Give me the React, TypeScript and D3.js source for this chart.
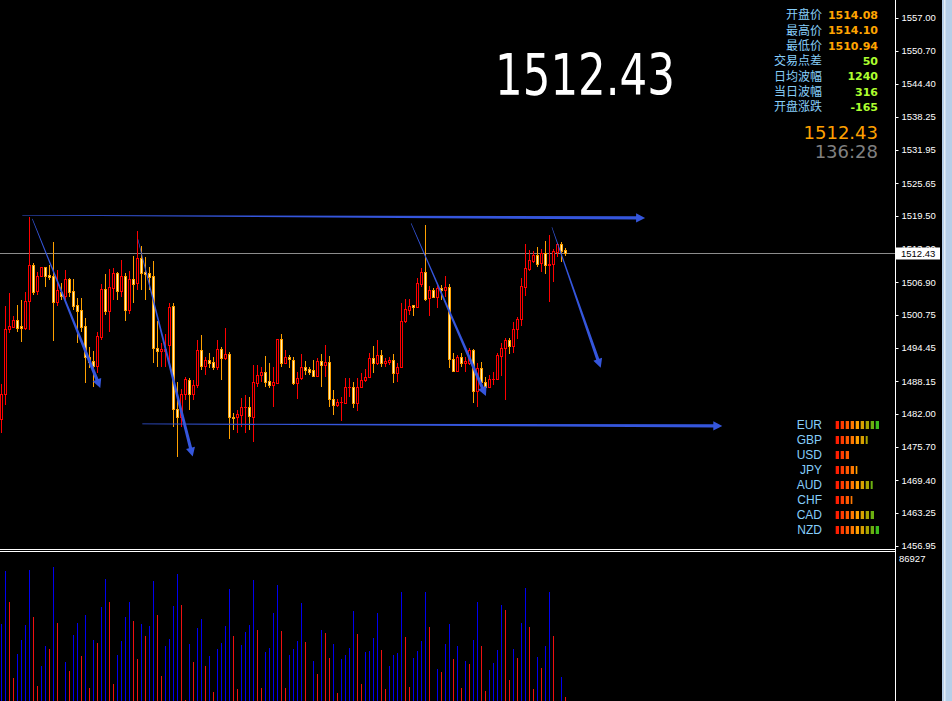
import React from 'react';
import * as d3 from 'd3';

// OHLC, one entry per bar (oldest first)
const opens = [
  1480.95, 1485.68, 1497.98, 1498.49, 1499.75, 1498.61, 1498.30, 1503.28, 1510.09, 1505.30,
  1508.08, 1509.72, 1508.26, 1508.08, 1503.22, 1505.11, 1504.35, 1507.51, 1505.24, 1502.59,
  1501.64, 1498.61, 1492.81, 1491.92, 1491.10, 1496.59, 1505.61, 1501.51, 1505.74, 1508.58,
  1505.30, 1508.08, 1501.64, 1507.51, 1506.81, 1511.42, 1508.90, 1508.58, 1508.08, 1494.51,
  1493.94, 1493.90, 1495.08, 1502.40, 1482.84, 1481.33, 1485.74, 1488.39, 1485.74, 1487.44,
  1494.07, 1491.10, 1492.18, 1491.73, 1490.91, 1494.20, 1492.49, 1493.31, 1481.45, 1481.33,
  1481.70, 1483.22, 1483.22, 1481.45, 1487.89, 1489.27, 1489.91, 1488.14, 1487.38, 1487.89,
  1496.09, 1491.67, 1492.68, 1492.18, 1487.89, 1488.77, 1490.79, 1490.41, 1490.28, 1489.21,
  1491.92, 1491.29, 1491.80, 1484.86, 1483.72, 1484.23, 1484.10, 1487.00, 1487.00, 1484.10,
  1487.13, 1488.39, 1488.90, 1492.49, 1491.67, 1493.06, 1491.55, 1491.86, 1492.11, 1489.65,
  1490.79, 1499.50, 1501.64, 1502.52, 1502.27, 1506.56, 1508.83, 1503.85, 1505.43, 1504.16,
  1505.80, 1505.43, 1505.93, 1492.30, 1490.16, 1492.68, 1491.55, 1491.67, 1494.07, 1486.37,
  1490.66, 1488.08, 1487.00, 1488.58, 1488.58, 1492.93, 1494.38, 1495.96, 1494.89, 1497.98,
  1499.87, 1506.06, 1509.40, 1510.98, 1512.05, 1510.47, 1512.37, 1510.22, 1510.28, 1512.68,
  1514.13, 1513.00,
];
const highs = [
  1487.63, 1502.40, 1504.79, 1500.50, 1502.52, 1503.53, 1505.05, 1519.18, 1510.47, 1508.83,
  1509.84, 1509.84, 1510.16, 1514.51, 1509.21, 1506.69, 1509.21, 1507.70, 1507.44, 1503.85,
  1503.85, 1500.06, 1494.70, 1493.94, 1497.54, 1506.56, 1508.45, 1509.34, 1509.53, 1508.90,
  1511.10, 1508.58, 1509.08, 1511.86, 1516.59, 1513.75, 1511.73, 1509.84, 1510.91, 1499.62,
  1495.33, 1497.04, 1502.90, 1502.90, 1488.01, 1486.75, 1489.02, 1488.71, 1488.39, 1495.96,
  1496.91, 1492.81, 1493.44, 1492.81, 1495.96, 1494.70, 1498.17, 1493.75, 1482.08, 1482.71,
  1484.92, 1485.55, 1485.24, 1491.23, 1491.23, 1490.91, 1492.93, 1491.55, 1490.91, 1496.09,
  1497.10, 1494.07, 1493.12, 1492.81, 1489.97, 1493.31, 1492.05, 1490.91, 1492.18, 1492.49,
  1493.31, 1495.02, 1492.93, 1486.50, 1484.73, 1485.24, 1488.77, 1488.71, 1488.08, 1488.71,
  1489.65, 1490.41, 1493.44, 1494.83, 1495.96, 1494.07, 1492.49, 1492.81, 1493.31, 1491.55,
  1503.03, 1503.79, 1503.66, 1502.52, 1507.63, 1509.53, 1517.73, 1506.18, 1505.74, 1506.81,
  1506.37, 1508.08, 1506.56, 1493.44, 1493.12, 1493.57, 1492.81, 1494.38, 1494.20, 1491.55,
  1491.86, 1489.02, 1489.34, 1489.97, 1493.57, 1495.33, 1496.28, 1496.28, 1499.43, 1500.38,
  1507.63, 1514.13, 1512.99, 1512.87, 1513.56, 1513.12, 1514.70, 1515.84, 1513.12, 1514.26,
  1514.57, 1513.44,
];
const lows = [
  1478.30, 1483.72, 1497.35, 1498.17, 1497.54, 1495.65, 1497.85, 1497.85, 1504.48, 1504.48,
  1507.82, 1506.06, 1507.32, 1495.84, 1502.40, 1503.53, 1502.90, 1504.16, 1501.64, 1495.33,
  1497.54, 1487.89, 1490.60, 1487.00, 1489.65, 1495.96, 1500.69, 1497.54, 1503.53, 1503.53,
  1504.16, 1499.62, 1500.88, 1502.90, 1505.43, 1505.43, 1503.53, 1505.43, 1491.67, 1490.91,
  1490.91, 1490.91, 1490.91, 1479.56, 1473.88, 1479.56, 1484.60, 1482.71, 1484.60, 1486.81,
  1490.28, 1489.34, 1490.60, 1490.28, 1490.28, 1488.39, 1492.18, 1477.16, 1478.93, 1478.30,
  1479.56, 1478.30, 1478.93, 1476.72, 1487.13, 1488.08, 1487.13, 1486.81, 1483.22, 1487.76,
  1490.91, 1491.55, 1490.60, 1487.38, 1484.73, 1488.39, 1489.34, 1489.34, 1489.02, 1489.02,
  1487.13, 1489.02, 1483.34, 1481.77, 1483.22, 1480.69, 1483.98, 1485.24, 1483.03, 1482.59,
  1486.81, 1488.08, 1488.71, 1489.78, 1491.23, 1490.91, 1490.91, 1491.23, 1487.89, 1488.08,
  1490.60, 1499.12, 1500.69, 1500.50, 1501.96, 1505.93, 1503.41, 1500.57, 1503.85, 1501.96,
  1503.53, 1504.16, 1490.60, 1489.97, 1489.97, 1490.91, 1489.97, 1491.23, 1484.10, 1483.34,
  1487.44, 1486.18, 1486.81, 1487.44, 1488.39, 1489.15, 1484.60, 1493.31, 1493.44, 1496.09,
  1498.61, 1504.29, 1509.02, 1510.47, 1509.84, 1508.90, 1508.45, 1503.22, 1507.00, 1511.73,
  1510.79, 1511.93,
];
const closes = [
  1485.68, 1497.98, 1498.61, 1499.75, 1498.30, 1498.30, 1503.28, 1510.09, 1505.11, 1508.08,
  1509.72, 1508.08, 1507.95, 1503.22, 1505.43, 1504.35, 1507.51, 1505.11, 1502.40, 1501.51,
  1498.49, 1492.68, 1491.86, 1491.10, 1496.72, 1505.61, 1501.51, 1505.93, 1508.58, 1505.30,
  1508.08, 1501.64, 1507.51, 1506.56, 1511.42, 1508.71, 1508.45, 1507.95, 1494.38, 1493.94,
  1494.20, 1494.30, 1502.14, 1482.84, 1481.33, 1485.74, 1488.58, 1485.74, 1487.44, 1494.07,
  1491.10, 1492.18, 1491.67, 1490.91, 1494.20, 1492.49, 1493.25, 1481.33, 1481.14, 1481.89,
  1483.22, 1483.34, 1481.58, 1488.01, 1489.40, 1489.91, 1488.08, 1487.38, 1488.01, 1496.09,
  1491.67, 1492.68, 1492.30, 1487.89, 1488.77, 1490.79, 1490.28, 1489.97, 1489.21, 1491.92,
  1491.29, 1491.80, 1484.86, 1483.72, 1484.23, 1484.29, 1487.00, 1487.05, 1484.10, 1487.13,
  1488.39, 1488.90, 1492.49, 1491.67, 1493.06, 1491.55, 1491.92, 1492.11, 1489.65, 1490.79,
  1499.50, 1501.77, 1502.46, 1502.27, 1506.69, 1508.83, 1503.72, 1505.43, 1504.16, 1505.80,
  1505.43, 1505.93, 1492.30, 1490.16, 1492.68, 1491.55, 1491.92, 1494.07, 1486.37, 1490.66,
  1488.08, 1487.13, 1488.58, 1488.64, 1493.12, 1494.38, 1495.96, 1494.89, 1497.98, 1499.94,
  1506.18, 1509.53, 1511.10, 1512.05, 1510.41, 1512.37, 1510.22, 1510.35, 1512.81, 1514.13,
  1512.87, 1512.43,
];
const volumes = [
  47255, 78176, 60090, 15752, 29753, 37921, 46672, 78759, 51339, 11085,
  22753, 34421, 32670, 80509, 47839, 1750, 25086, 19836, 40838, 47839,
  28587, 52506, 9918, 37921, 36171, 57173, 73508, 60090, 12251, 29170,
  37338, 51339, 60090, 49006, 26836, 47255, 40255, 46089, 72342, 52506,
  16919, 34421, 38504, 57757, 76425, 58340, 2917, 35587, 25086, 44922,
  50172, 22753, 28587, 7584, 32670, 36171, 46089, 67674, 40255, 9334,
  35004, 42588, 46672, 72925, 43755, 9918, 30920, 33254, 53673, 70008,
  43172, 9918, 29170, 32670, 37338, 59507, 36754, 1167, 25670, 18085,
  43755, 42005, 27420, 35587, 7001, 26836, 29170, 33254, 54840, 41421,
  12251, 30920, 31504, 39088, 53673, 32087, 9334, 22753, 29170, 30337,
  65924, 39671, 10501, 27420, 31504, 37338, 65924, 45505, 1167, 21002,
  19252, 35587, 47255, 26836, 34421, 9918, 25670, 23919, 37921, 60090,
  34421, 8168, 20419, 24503, 32087, 58340, 55423, 14585, 32670, 27420,
  47839, 68258, 45505, 9334, 28003, 21586, 34421, 65924, 40255, 1167,
  16335, 4667,
];

const priceTicks = [
  1557.00, 1550.70, 1544.40, 1538.25, 1531.95, 1525.65, 1519.50, 1513.20, 1506.90,
  1500.75, 1494.45, 1488.15, 1482.00, 1475.70, 1469.40, 1463.25, 1456.95,
];
const volumeMax = 86927;
const lastPrice = 1512.43;
const barTimer = '136:28';

// drawn arrows: [fromBar, fromPrice, toBar, toPrice]
const trendArrows = [
  [5.2, 1519.56, 160.9, 1519.05],
  [35.2, 1480.06, 180.2, 1479.68],
  [7.7, 1518.86, 24.7, 1486.87],
  [34.1, 1515.02, 47.8, 1473.87],
  [102.4, 1518.04, 121.1, 1485.35],
  [137.6, 1517.29, 149.8, 1490.71],
];

const infoLabels = ['开盘价', '最高价', '最低价', '交易点差', '日均波幅', '当日波幅', '开盘涨跌'];
const infoValues = ['1514.08', '1514.10', '1510.94', '50', '1240', '316', '-165'];

const currencies = ['EUR', 'GBP', 'USD', 'JPY', 'AUD', 'CHF', 'CAD', 'NZD'];
const strength = [9, 6.6, 3, 4.5, 7.6, 3.5, 8, 9];
const meterColors = ['#ff1e00', '#ff3c00', '#ff5a00', '#ff7800', '#ffa000', '#d8a000', '#a8a400', '#6cb010', '#3cbc1c'];

const W = 952;
const H = 701;
const AXIS_X = 895.5;

function arrowPoints(x1: number, y1: number, x2: number, y2: number) {
  const dx = x2 - x1, dy = y2 - y1;
  const len = Math.hypot(dx, dy);
  const ux = dx / len, uy = dy / len;
  const nx = -uy, ny = ux;
  const hl = 9, hw = 4.6, w0 = 0.6, w1 = 3.2;
  const bx = x2 - ux * hl, by = y2 - uy * hl;
  const pts = [
    [x1 + nx * w0 / 2, y1 + ny * w0 / 2],
    [bx + nx * w1 / 2, by + ny * w1 / 2],
    [bx + nx * hw, by + ny * hw],
    [x2, y2],
    [bx - nx * hw, by - ny * hw],
    [bx - nx * w1 / 2, by - ny * w1 / 2],
    [x1 - nx * w0 / 2, y1 - ny * w0 / 2],
  ];
  return pts.map(p => p.join(',')).join(' ');
}

export default function App() {
  const n = closes.length;
  const x = d3.scaleLinear().domain([0, n - 1]).range([1.5, 1.5 + 4 * (n - 1)]);
  const y = d3.scaleLinear().domain([1456.95, 1557.0]).range([546, 17.5]);
  const vy = d3.scaleLinear().domain([0, volumeMax]).range([705, 556]);
  const rowY = d3.scalePoint<string>().domain(currencies).range([425, 530]);
  const infoY = d3.scalePoint<string>().domain(infoLabels).range([15, 107]);

  const snap = (v: number) => Math.round(v) + 0.5;

  return (
    <svg width={W} height={H} style={{ position: 'fixed', left: 0, top: 0, background: '#000' }}>
      <rect x={0} y={0} width={W} height={H} fill="#000" />

      {/* last price line */}
      <line x1={0} x2={AXIS_X} y1={snap(y(lastPrice))} y2={snap(y(lastPrice))} stroke="#8c8c8c" strokeWidth={1} />

      {/* candles */}
      <g shapeRendering="crispEdges">
        {closes.map((c, i) => {
          const o = opens[i];
          const up = c >= o;
          const col = up ? '#ff0000' : '#ffa000';
          const cx = x(i);
          const top = Math.round(y(Math.max(o, c)));
          const bot = Math.round(y(Math.min(o, c)));
          return (
            <g key={i}>
              <line x1={cx} x2={cx} y1={Math.round(y(highs[i]))} y2={Math.round(y(lows[i]))} stroke={col} strokeWidth={1} />
              {bot - top >= 1 ? (
                <rect x={cx - 1} y={top + 0.5} width={2} height={bot - top} fill={up ? '#000' : '#fff1b8'} stroke={col} strokeWidth={1} />
              ) : (
                <line x1={cx - 1.5} x2={cx + 1.5} y1={top + 0.5} y2={top + 0.5} stroke={col} strokeWidth={1} />
              )}
            </g>
          );
        })}
      </g>

      {/* hand drawn arrows */}
      <g fill="#3556dc">
        {trendArrows.map((a, k) => (
          <polygon key={k} points={arrowPoints(x(a[0]), y(a[1]), x(a[2]), y(a[3]))} />
        ))}
      </g>

      {/* big price */}
      <text x={495} y={95} fontFamily="DejaVu Sans" fontSize={57} fill="#fff" textLength={180} lengthAdjust="spacingAndGlyphs">
        {lastPrice.toFixed(2)}
      </text>

      {/* info panel */}
      {infoLabels.map((l, k) => (
        <g key={l}>
          <text x={822} y={infoY(l)} dy="0.35em" textAnchor="end" fontFamily="Noto Sans CJK SC" fontSize={12} fill="#87cefa">{l}</text>
          <text x={878} y={infoY(l)} dy="0.36em" textAnchor="end" fontFamily="DejaVu Sans" fontWeight="bold" fontSize={11} fill={k < 3 ? '#ffa500' : '#adff2f'}>{infoValues[k]}</text>
        </g>
      ))}
      <text x={878} y={132.5} dy="0.36em" textAnchor="end" fontFamily="DejaVu Sans" fontSize={18} fill="#ffa000">{lastPrice.toFixed(2)}</text>
      <text x={878} y={152} dy="0.36em" textAnchor="end" fontFamily="DejaVu Sans" fontSize={18} fill="#808080">{barTimer}</text>

      {/* currency strength meter */}
      {currencies.map((cur, r) => (
        <g key={cur}>
          <text x={822} y={rowY(cur)} dy="0.36em" textAnchor="end" fontFamily="Liberation Sans" fontSize={12} fill="#87cefa">{cur}</text>
          {meterColors.map((mc, k) => {
            const f = Math.max(0, Math.min(1, strength[r] - k));
            if (f <= 0) return null;
            return <rect key={k} x={835.7 + 5 * k} y={(rowY(cur) as number) - 4} width={3.3 * f} height={8} fill={mc} />;
          })}
        </g>
      ))}

      {/* sub window separator */}
      <line x1={0} x2={AXIS_X} y1={549.5} y2={549.5} stroke="#fff" />
      <line x1={0} x2={AXIS_X} y1={551.5} y2={551.5} stroke="#fff" />

      {/* volumes */}
      <g shapeRendering="crispEdges">
        {volumes.map((v, i) => (
          <line key={i} x1={x(i)} x2={x(i)} y1={vy(v)} y2={H} strokeWidth={1}
            stroke={i > 0 && v < volumes[i - 1] ? '#ee1010' : '#0000ee'} />
        ))}
      </g>

      {/* price axis */}
      <line x1={AXIS_X} x2={AXIS_X} y1={0} y2={H} stroke="#fff" />
      {priceTicks.map(t => (
        <g key={t}>
          <line x1={AXIS_X} x2={AXIS_X + 3} y1={snap(y(t))} y2={snap(y(t))} stroke="#fff" />
          <text x={901.5} y={y(t)} dy="0.36em" fontFamily="Liberation Sans" fontSize={9.5} fill="#fff">{t.toFixed(2)}</text>
        </g>
      ))}
      <rect x={896} y={Math.round(y(lastPrice)) - 5.5} width={44} height={12} fill="#fff" />
      <text x={901} y={y(lastPrice) + 0.5} dy="0.36em" fontFamily="Liberation Sans" fontSize={9.5} fill="#000">{lastPrice.toFixed(2)}</text>
      <text x={899} y={559} dy="0.36em" fontFamily="Liberation Sans" fontSize={9.5} fill="#fff">{volumeMax}</text>

      {/* window edge */}
      <rect x={942} y={0} width={10} height={H} fill="#b7cfe8" />
      <line x1={944.8} x2={944.8} y1={0} y2={H} stroke="#eef4fb" strokeWidth={1.2} />
    </svg>
  );
}
